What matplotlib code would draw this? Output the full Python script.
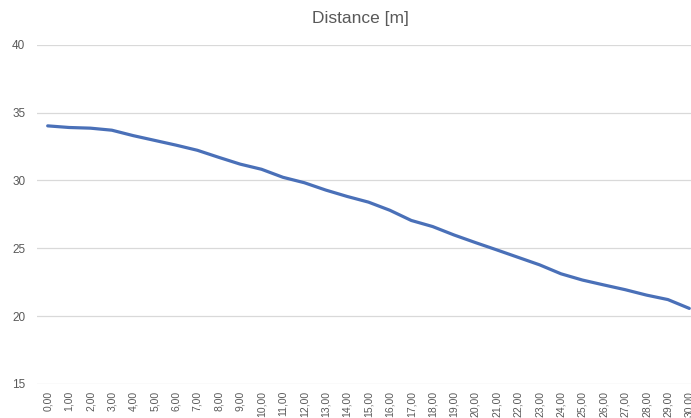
import matplotlib.pyplot as plt
import matplotlib as mpl
mpl.rc('font', family='Liberation Sans')

# data
time = [0, 1, 2, 3, 4, 5, 6, 7, 8, 9, 10, 11, 12, 13, 14, 15,
        16, 17, 18, 19, 20, 21, 22, 23, 24, 25, 26, 27, 28, 29, 30]
distance = [34.02, 33.9, 33.85, 33.7, 33.3, 32.95, 32.6, 32.22, 31.7, 31.2,
            30.82, 30.23, 29.83, 29.29, 28.82, 28.4, 27.8, 27.05, 26.6, 25.98,
            25.42, 24.88, 24.33, 23.78, 23.12, 22.66, 22.3, 21.95, 21.55, 21.22,
            20.57]
tick_labels = ['%d,00' % t for t in time]

fig = plt.figure(figsize=(6.91, 4.18), dpi=100)
ax = fig.add_axes([37/691, 34/418, 663/691, 339.3/418])

x = list(range(len(time)))
ax.plot(x, distance, color='#4a70b8', linewidth=2.3, solid_capstyle='round')

ax.set_xlim(-0.5, len(time) - 0.5)
ax.set_ylim(15, 40)
ax.set_yticks([15, 20, 25, 30, 35, 40])
ax.set_xticks(x)
ax.set_xticklabels(tick_labels, rotation=90, fontsize=7.5, color='#595959')
ax.tick_params(axis='y', labelsize=8.5, labelcolor='#595959', length=0, pad=8.5)
ax.tick_params(axis='x', length=0, pad=5)
ax.grid(axis='y', color='#d9d9d9', linewidth=0.9)
ax.set_axisbelow(True)
for s in ax.spines.values():
    s.set_visible(False)

fig.text(360/691, 1 - 19/418, 'Distance [m]', ha='center', va='center',
         fontsize=12.5, color='#595959')

fig.savefig('out.png', dpi=100)
